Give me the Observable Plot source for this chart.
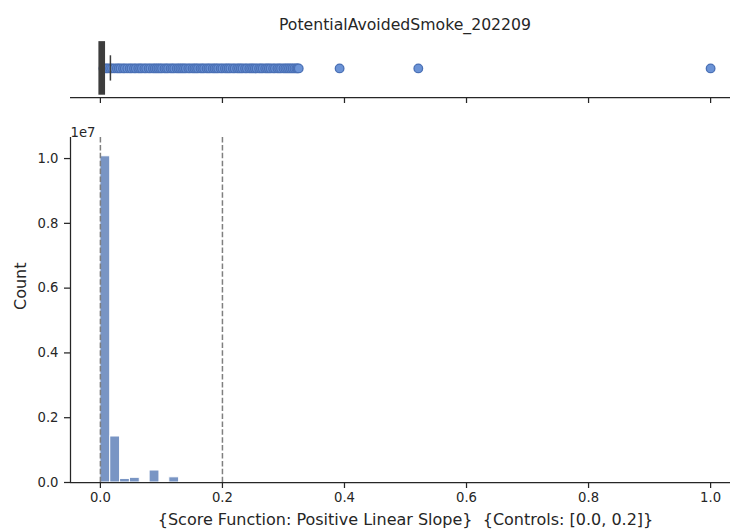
<!DOCTYPE html>
<html>
<head>
<meta charset="utf-8">
<script src="https://cdn.jsdelivr.net/npm/d3@7"></script>
<script src="https://cdn.jsdelivr.net/npm/@observablehq/plot@0.6"></script>
<style>
  html, body { margin: 0; padding: 0; background: #fff; overflow: hidden; }
  #wrap { position: relative; width: 740px; height: 529px; font-family: "DejaVu Sans", sans-serif; }
  #title { position: absolute; left: 70px; width: 670px; top: 15px; text-align: center; font-size: 15.7px; color: #262626; }
  #top { position: absolute; left: 0; top: 0; }
  #bottom { position: absolute; left: 0; top: 110px; }
  #wrap svg { overflow: visible; }
</style>
</head>
<body>
<div id="wrap">
  <div id="top"></div>
  <div id="bottom"></div>
  <div id="title"></div>
</div>
<script>
// ---- data ----
const chartTitle = "PotentialAvoidedSmoke_202209";
const xLabel = "{Score Function: Positive Linear Slope}  {Controls: [0.0, 0.2]}";
const yLabel = "Count";
const xTicks = [0, 0.2, 0.4, 0.6, 0.8, 1.0];
const yTicks = [0, 2e6, 4e6, 6e6, 8e6, 1e7];
const controls = [0.0, 0.2];

// histogram (bin width 1/62)
const binWidth = 1 / 62;
const binIndex = [0, 1, 2, 3, 5, 7];
const binCounts = [10070000, 1420000, 110000, 145000, 370000, 160000];

// box plot summary
const boxQ1 = 0.0;
const boxQ3 = 0.006;
const whiskerHi = 0.0164;
const outliers = [0.005, 0.009, 0.012, 0.016, 0.019, 0.023, 0.027, 0.03, 0.033, 0.037,
  0.04, 0.044, 0.048, 0.051, 0.055, 0.058, 0.062, 0.065, 0.068, 0.072, 0.075, 0.079,
  0.082, 0.086, 0.089, 0.092, 0.095, 0.098, 0.101, 0.105, 0.108, 0.111, 0.115, 0.118,
  0.121, 0.125, 0.128, 0.131, 0.134, 0.137, 0.14, 0.144, 0.147, 0.151, 0.154, 0.157,
  0.16, 0.164, 0.167, 0.17, 0.174, 0.177, 0.18, 0.184, 0.187, 0.19, 0.193, 0.197, 0.2,
  0.204, 0.207, 0.21, 0.213, 0.217, 0.22, 0.224, 0.227, 0.23, 0.233, 0.237, 0.24, 0.244,
  0.247, 0.25, 0.253, 0.256, 0.26, 0.263, 0.266, 0.27, 0.273, 0.276, 0.279, 0.283,
  0.286, 0.29, 0.293, 0.296, 0.3, 0.303, 0.306, 0.309, 0.312, 0.315, 0.318, 0.321,
  0.323, 0.325, 0.392, 0.521, 1.0];

// ---- build ----
const W = 740;
const xDomain = [-0.049, 1.049];
const ink = "#262626";
const FS = 13.2;
const LFS = 16;
const style = { fontFamily: "DejaVu Sans, sans-serif", fontSize: FS + "px", color: ink, background: "transparent", overflow: "visible" };

document.getElementById("title").textContent = chartTitle;

const hist = binIndex.map((b, i) => ({ x1: b * binWidth, x2: (b + 1) * binWidth, count: binCounts[i] }));
const topYDomain = [-1.15, 1.5];

const topPlot = Plot.plot({
  width: W, height: 110,
  marginLeft: 70, marginRight: 0, marginTop: 30, marginBottom: 13,
  style,
  x: { domain: xDomain },
  y: { domain: topYDomain, axis: null },
  marks: [
    Plot.ruleY([topYDomain[0]], { stroke: ink, strokeWidth: 1.25 }),
    Plot.axisX({ ticks: xTicks, tickSize: 6, tickFormat: () => "", strokeWidth: 1.25, label: null }),
    Plot.ruleY([{ a: boxQ3, b: whiskerHi }], { y: 0, x1: "a", x2: "b", stroke: "#3d3d3d", strokeWidth: 1.5 }),
    Plot.dot(outliers, { x: d => d, y: 0, r: 4.3, fill: "#6b93d6", stroke: "#4a70b5", strokeWidth: 1.3 }),
    Plot.ruleX([whiskerHi], { y1: -0.5, y2: 0.5, stroke: "#3d3d3d", strokeWidth: 1.5 }),
    Plot.rect([{ q1: boxQ1, q3: boxQ3 }], { x1: "q1", x2: "q3", y1: -1, y2: 1, fill: "#3d3d3d", stroke: "#3d3d3d", strokeWidth: 3 })
  ]
});
document.getElementById("top").appendChild(topPlot);

const bottomPlot = Plot.plot({
  width: W, height: 419,
  marginLeft: 70, marginRight: 0, marginTop: 27, marginBottom: 47,
  style,
  x: { domain: xDomain },
  y: { domain: [0, 1.065e7] },
  marks: [
    Plot.rectY(hist, { x1: "x1", x2: "x2", y: "count", fill: "#4c72b0", fillOpacity: 0.75, stroke: "white", strokeWidth: 1 }),
    Plot.ruleX(controls, { stroke: "#7f7f7f", strokeWidth: 1.5, strokeDasharray: "5.5,2.4" }),
    Plot.ruleY([0], { stroke: ink, strokeWidth: 1.25 }),
    Plot.ruleX([xDomain[0]], { stroke: ink, strokeWidth: 1.25 }),
    Plot.axisX({ ticks: xTicks, tickSize: 6, tickPadding: 4, fontSize: FS, tickFormat: d => d.toFixed(1), strokeWidth: 1.25, label: null }),
    Plot.axisY({ ticks: yTicks, tickSize: 6, tickPadding: 6, fontSize: FS, tickFormat: d => (d / 1e7).toFixed(1), strokeWidth: 1.25, label: null }),
    Plot.text([xLabel], { frameAnchor: "bottom", dy: 37, lineAnchor: "middle", fontSize: LFS, fill: ink }),
    Plot.text([yLabel], { frameAnchor: "left", dx: -50, rotate: -90, lineAnchor: "middle", fontSize: LFS, fill: ink }),
    Plot.text(["1e7"], { frameAnchor: "top-left", textAnchor: "start", dy: -10, fontSize: FS, fill: ink })
  ]
});
document.getElementById("bottom").appendChild(bottomPlot);
</script>
</body>
</html>
